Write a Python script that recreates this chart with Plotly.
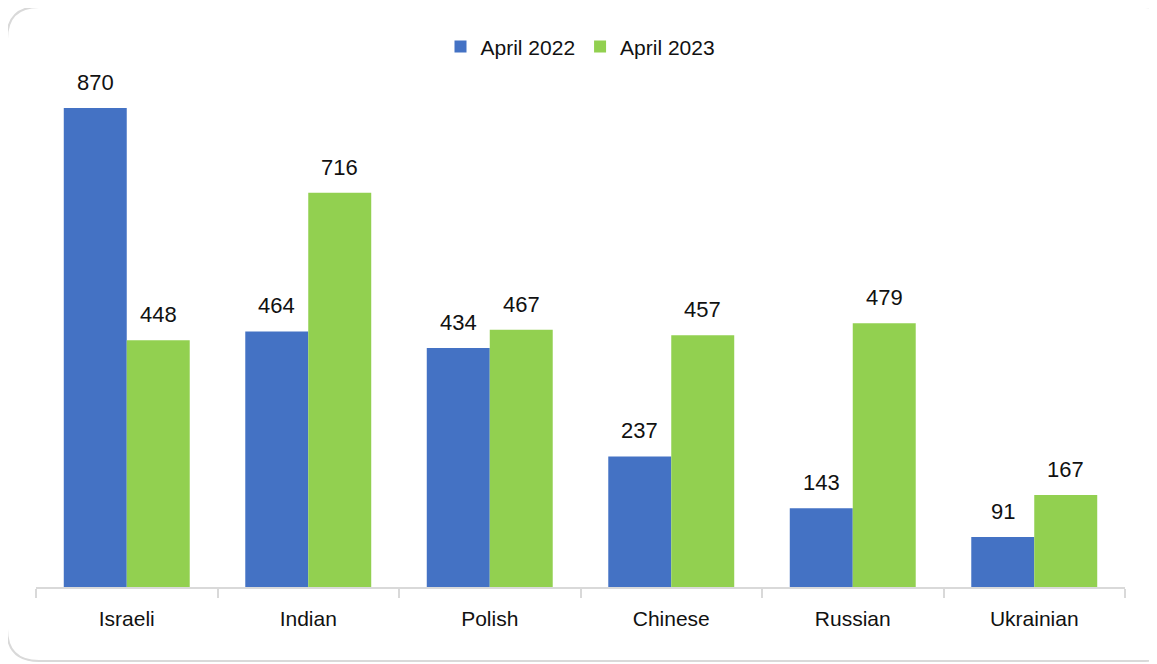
import plotly.graph_objects as go

categories = ["Israeli", "Indian", "Polish", "Chinese", "Russian", "Ukrainian"]
april_2022 = [870, 464, 434, 237, 143, 91]
april_2023 = [448, 716, 467, 457, 479, 167]

BLUE = "#4472C4"
GREEN = "#92D050"
FONT = "Liberation Sans, Arial, sans-serif"
BARGAP = 0.306

fig = go.Figure()
fig.add_trace(go.Bar(x=categories, y=april_2022, name="April 2022",
                     marker=dict(color=BLUE, line=dict(width=0))))
fig.add_trace(go.Bar(x=categories, y=april_2023, name="April 2023",
                     marker=dict(color=GREEN, line=dict(width=0))))

# value labels above bars
half = (1 - BARGAP) / 4
for i, (a, b) in enumerate(zip(april_2022, april_2023)):
    for xv, v in ((i - half, a), (i + half, b)):
        fig.add_annotation(
            x=xv, y=v, text=str(v), showarrow=False, yanchor="bottom", yshift=11,
            font=dict(family=FONT, size=22, color="#111111"),
        )

# rounded border around the chart (pixels relative to plot bottom-left)
x0, x1, y0, y1, r = -29, 1141, -74, 580, 32
path = (
    f"M {x0 + r},{y1} L {x1 - r},{y1} Q {x1},{y1} {x1},{y1 - r} "
    f"L {x1},{y0 + r} Q {x1},{y0} {x1 - r},{y0} L {x0 + r},{y0} "
    f"Q {x0},{y0} {x0},{y0 + r} L {x0},{y1 - r} Q {x0},{y1} {x0 + r},{y1} Z"
)
fig.add_shape(
    type="path", path=path, xref="paper", yref="paper", xanchor=0, yanchor=0,
    xsizemode="pixel", ysizemode="pixel", line=dict(color="#d9d9d9", width=2),
    layer="below",
)

fig.update_layout(
    width=1157, height=664,
    margin=dict(l=28, r=40, t=52, b=85),
    barmode="group", bargap=BARGAP, bargroupgap=0,
    plot_bgcolor="white", paper_bgcolor="white",
    font=dict(family=FONT, size=20, color="#111111"),
    showlegend=True,
    legend=dict(orientation="h", x=0.5, xanchor="center", y=1.025, yanchor="middle",
                font=dict(size=21), itemwidth=30, traceorder="normal"),
    xaxis=dict(showline=True, linecolor="#d9d9d9", linewidth=2, ticks="outside",
               tickson="boundaries", ticklen=9, tickcolor="#d9d9d9", tickwidth=2,
               tickfont=dict(size=21), ticklabelstandoff=12, showgrid=False),
    yaxis=dict(visible=False, range=[0, 957], showgrid=False),
)

fig.write_html("out.html")
